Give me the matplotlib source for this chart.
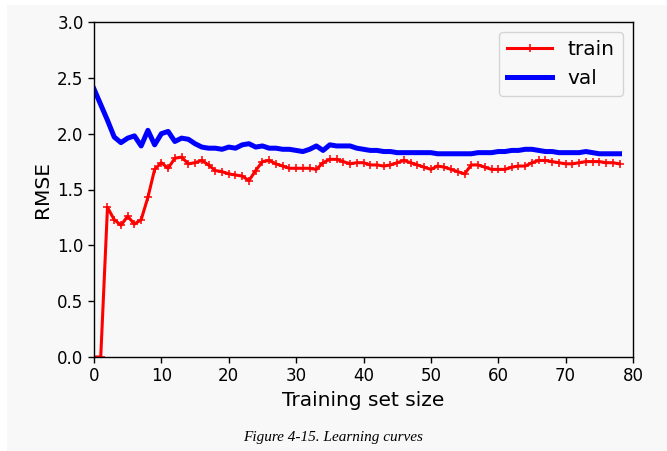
import matplotlib
matplotlib.use("Agg")
import matplotlib.pyplot as plt
from matplotlib.patches import Rectangle

train_x = list(range(0, 79))
train_rmse = [0.00, 0.00, 1.34, 1.23, 1.18, 1.26, 1.19, 1.23, 1.43, 1.68,
              1.74, 1.69, 1.78, 1.79, 1.73, 1.74, 1.76, 1.72, 1.67, 1.66,
              1.64, 1.63, 1.62, 1.58, 1.67, 1.75, 1.76, 1.73, 1.71, 1.69,
              1.69, 1.69, 1.69, 1.68, 1.74, 1.77, 1.77, 1.75, 1.73, 1.74,
              1.74, 1.72, 1.72, 1.71, 1.72, 1.74, 1.76, 1.74, 1.72, 1.70,
              1.68, 1.71, 1.70, 1.68, 1.66, 1.64, 1.72, 1.72, 1.70, 1.68,
              1.68, 1.68, 1.70, 1.71, 1.71, 1.74, 1.76, 1.76, 1.75, 1.74,
              1.73, 1.73, 1.74, 1.75, 1.75, 1.75, 1.74, 1.74, 1.73]
val_rmse = [2.40, 2.26, 2.12, 1.97, 1.92, 1.96, 1.98, 1.89, 2.03, 1.90,
            2.00, 2.02, 1.93, 1.96, 1.95, 1.91, 1.88, 1.87, 1.87, 1.86,
            1.88, 1.87, 1.90, 1.91, 1.88, 1.89, 1.87, 1.87, 1.86, 1.86,
            1.85, 1.84, 1.86, 1.89, 1.85, 1.90, 1.89, 1.89, 1.89, 1.87,
            1.86, 1.85, 1.85, 1.84, 1.84, 1.83, 1.83, 1.83, 1.83, 1.83,
            1.83, 1.82, 1.82, 1.82, 1.82, 1.82, 1.82, 1.83, 1.83, 1.83,
            1.84, 1.84, 1.85, 1.85, 1.86, 1.86, 1.85, 1.84, 1.84, 1.83,
            1.83, 1.83, 1.83, 1.84, 1.83, 1.82, 1.82, 1.82, 1.82]
x_ticks = [0, 10, 20, 30, 40, 50, 60, 70, 80]
y_ticks = [0.0, 0.5, 1.0, 1.5, 2.0, 2.5, 3.0]

bg = "#f8f8f8"
fig = plt.figure(figsize=(6.67, 4.51), dpi=100, facecolor="white")
fig.patches.append(Rectangle((7 / 667, 0), 1, 1 - 5 / 451, transform=fig.transFigure,
                             facecolor=bg, edgecolor="none", zorder=-10))
ax = fig.add_axes([94 / 667, 1 - 357 / 451, (633 - 94) / 667, (357 - 22) / 451])
ax.set_facecolor(bg)

ax.plot(train_x, train_rmse, "r-+", linewidth=2.2, markersize=6, markeredgewidth=1.1, label="train")
ax.plot(train_x, val_rmse, "b-", linewidth=3.6, label="val")

ax.set_xlim(0, 80)
ax.set_ylim(0, 3)
ax.set_xticks(x_ticks)
ax.set_yticks(y_ticks)
ax.set_yticklabels([f"{v:.1f}" for v in y_ticks])
ax.tick_params(labelsize=12, length=4, width=1)
ax.set_xlabel("Training set size", fontsize=14.5)
ax.set_ylabel("RMSE", fontsize=14.5)
for s in ax.spines.values():
    s.set_linewidth(1)
ax.legend(loc="upper right", fontsize=14.5, facecolor=bg, framealpha=0.8,
          handlelength=2.2)

fig.text(333 / 667, 1 - 437 / 451, "Figure 4-15. Learning curves", ha="center", va="center",
         fontsize=11, family="Liberation Serif", style="italic")

fig.savefig("out.png", dpi=100, facecolor=fig.get_facecolor())
